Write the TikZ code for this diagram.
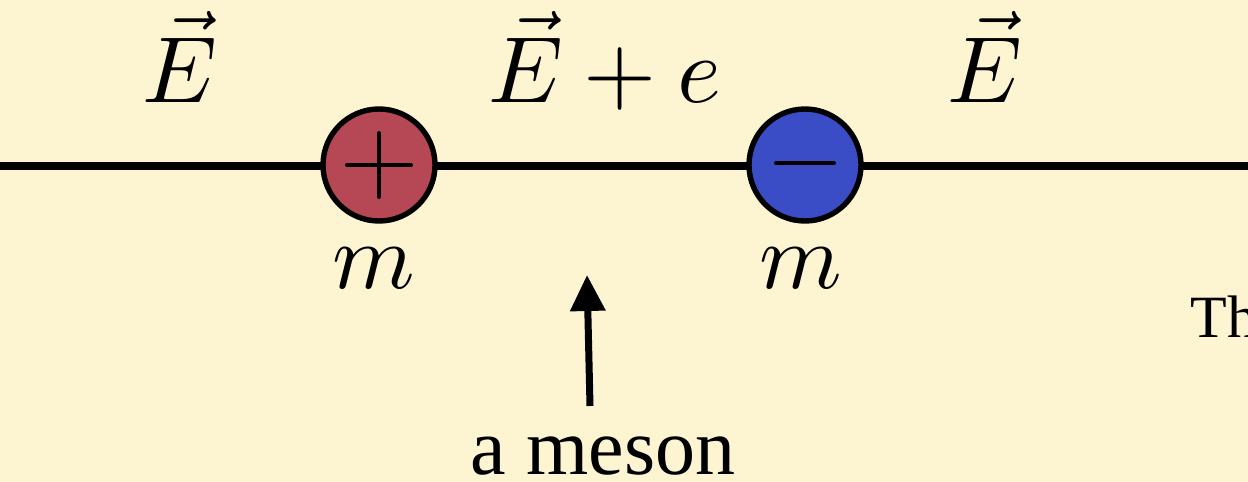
\documentclass[tikz,border=0pt]{standalone}
\usepackage{graphicx}
\usepackage{fontspec}
\setmainfont{Liberation Serif}
\usetikzlibrary{arrows.meta}
\definecolor{bgcream}{RGB}{253,245,210}
\definecolor{chargered}{RGB}{181,72,84}
\definecolor{chargeblue}{RGB}{58,76,198}
\newcommand{\bigmath}[1]{\scalebox{4.7}{\fontsize{10}{12}\selectfont$#1$}}
\tikzset{
  mathlbl/.style={inner sep=0pt},
  txtlbl/.style={inner sep=0pt, font=\fontsize{40}{44}\selectfont},
  charge/.style={circle, draw=black, line width=2.7pt, minimum size=56pt, inner sep=0pt},
  signstroke/.style={line width=2pt, line cap=round},
  wire/.style={line width=3.9pt},
  pointer/.style={line width=3.5pt, -{Triangle[length=18pt,width=17pt]}}
}
\begin{document}
\begin{tikzpicture}[x=0.5pt,y=-0.5pt]
\fill[bgcream] (0,0) rectangle (1248,482);
\useasboundingbox (0,0) rectangle (1248,482);
\coordinate (wl) at (0,166);
\coordinate (wr) at (1250,166);
\draw[wire] (wl) -- (wr);
\node[charge, fill=chargered] (p) at (379,165) {};
\node[charge, fill=chargeblue] (n) at (805,165) {};
\draw[signstroke] ([xshift=-16pt]p.center) -- ([xshift=16pt]p.center);
\draw[signstroke] ([yshift=-16pt]p.center) -- ([yshift=16pt]p.center);
\draw[signstroke] ([xshift=-14.5pt,yshift=1pt]n.center) -- ([xshift=14.5pt,yshift=1pt]n.center);
\node[mathlbl, anchor=base] (e1) at (180,102) {\bigmath{\vec{E}}};
\node[mathlbl, anchor=base] (e2) at (605,102) {\bigmath{\vec{E}+e}};
\node[mathlbl, anchor=base] (e3) at (985,102) {\bigmath{\vec{E}}};
\node[mathlbl, anchor=base] (m1) at (374,288) {\bigmath{m}};
\node[mathlbl, anchor=base] (m2) at (801,288) {\bigmath{m}};
\node[txtlbl, anchor=base] (mes) at (603,474) {a meson};
\coordinate (tip) at (587,275);
\coordinate (tail) at (590,406);
\draw[pointer] (tail) -- (tip);
\node[inner sep=0pt, anchor=base west, font=\fontsize{30}{34}\selectfont] (th) at (1190,337) {Th};
\end{tikzpicture}
\end{document}
